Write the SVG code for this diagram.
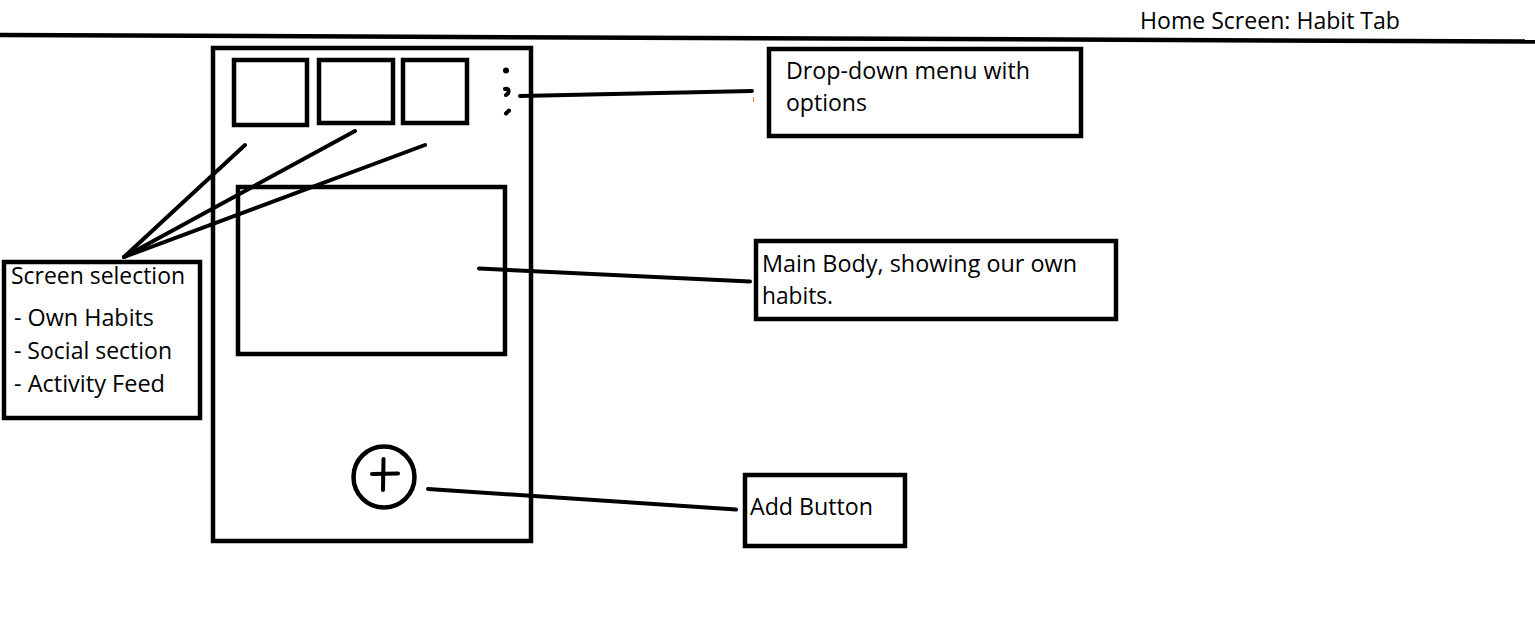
<svg xmlns="http://www.w3.org/2000/svg" width="1535" height="629" viewBox="0 0 1535 629">
<style>
.box{fill:none;stroke:#000;stroke-width:4.5}
.ln{fill:none;stroke:#000;stroke-width:4;stroke-linecap:round}
.t{font-family:"Open Sans","Noto Sans","Liberation Sans",sans-serif;font-size:23px;fill:#000}
</style>
<rect width="1535" height="629" fill="#fff"/>
<g id="title">
<line x1="0" y1="35" x2="1535" y2="41.5" stroke="#000" stroke-width="4.5"/>
<text class="t" x="1140" y="29" textLength="260" lengthAdjust="spacingAndGlyphs">Home Screen: Habit Tab</text>
</g>
<g id="phone">
<rect class="box" x="213" y="48" width="318" height="493"/>
<rect class="box" x="234" y="60" width="73" height="65"/>
<rect class="box" x="319" y="60" width="74" height="63"/>
<rect class="box" x="403" y="60" width="64" height="63"/>
<circle cx="506" cy="70.5" r="3" fill="#000"/>
<path d="M505 89 Q509 88 508.5 92 Q508 94 506 95" class="ln" stroke-width="3.5"/>
<path d="M506 113.5 L509 110.5" class="ln" stroke-width="4.5"/>
<rect class="box" x="238" y="187" width="267" height="167"/>
<circle cx="384" cy="477" r="30.5" class="box" stroke-width="4"/>
<line class="ln" x1="383.5" y1="459" x2="383" y2="490"/>
<line class="ln" x1="372" y1="474" x2="398" y2="473.5"/>
</g>
<g id="dropdown">
<rect class="box" x="769" y="49" width="312" height="87"/>
<text class="t" x="786" y="79" textLength="244" lengthAdjust="spacingAndGlyphs">Drop-down menu with</text>
<text class="t" x="786" y="111" textLength="81" lengthAdjust="spacingAndGlyphs">options</text>
</g>
<g id="mainbody">
<rect class="box" x="756" y="241" width="360" height="78"/>
<text class="t" x="762" y="272" textLength="315" lengthAdjust="spacingAndGlyphs">Main Body, showing our own</text>
<text class="t" x="762" y="304" textLength="71" lengthAdjust="spacingAndGlyphs">habits.</text>
</g>
<g id="screensel">
<rect class="box" x="4" y="262" width="196" height="156"/>
<text class="t" x="11" y="284" textLength="174" lengthAdjust="spacingAndGlyphs">Screen selection</text>
<text class="t" x="14" y="326" textLength="140" lengthAdjust="spacingAndGlyphs">- Own Habits</text>
<text class="t" x="14" y="359" textLength="158" lengthAdjust="spacingAndGlyphs">- Social section</text>
<text class="t" x="14" y="392" textLength="151" lengthAdjust="spacingAndGlyphs">- Activity Feed</text>
</g>
<g id="addbtn">
<rect class="box" x="745" y="475" width="160" height="71"/>
<text class="t" x="750" y="515" textLength="123" lengthAdjust="spacingAndGlyphs">Add Button</text>
</g>
<g id="connectors">
<line class="ln" x1="124" y1="257" x2="245" y2="145"/>
<line class="ln" x1="124" y1="257" x2="355" y2="131"/>
<line class="ln" x1="124" y1="257" x2="425" y2="145"/>
<line class="ln" x1="520" y1="96" x2="752" y2="91"/>
<line x1="753.5" y1="97" x2="753.5" y2="102" stroke="#e08a2a" stroke-width="1"/>
<line class="ln" x1="479" y1="268.5" x2="750" y2="281.5"/>
<line class="ln" x1="428" y1="489" x2="736" y2="509.5"/>
</g>
</svg>
